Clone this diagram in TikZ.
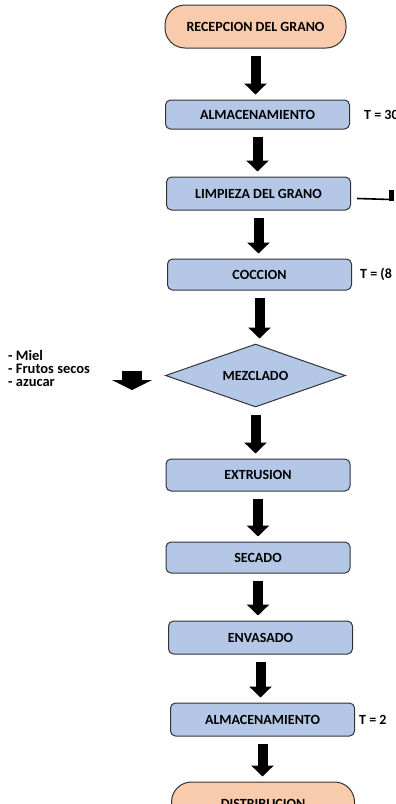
\documentclass[tikz,border=0pt]{standalone}
\usepackage{fontspec}
\setmainfont{Carlito}
\usepackage{xcolor}
\usepackage{tikz}
\usetikzlibrary{shapes.geometric, arrows.meta, positioning}
\definecolor{peach}{HTML}{F8CBAD}
\definecolor{procblue}{HTML}{B4C7E7}
\tikzstyle{blockarrow} = [line width=10pt, -{Triangle[width=22pt,length=11pt]}, shorten <=7pt, shorten >=5pt]
\tikzstyle{terminal} = [rectangle, rounded corners=20pt, minimum width=181pt, minimum height=43pt, draw=black!80, line width=1pt, fill=peach, font=\bfseries\fontsize{14}{14}\selectfont]
\tikzstyle{process} = [rectangle, rounded corners=5pt, minimum width=184pt, minimum height=31pt, draw=black!80, line width=1pt, fill=procblue, font=\bfseries\fontsize{14}{14}\selectfont]
\tikzstyle{decision} = [diamond, aspect=2.86, minimum width=180pt, minimum height=63pt, inner sep=0pt, draw=black!80, line width=1pt, fill=procblue, font=\bfseries\fontsize{14}{14}\selectfont]
\tikzstyle{note} = [font=\bfseries\fontsize{14}{14}\selectfont, inner sep=0pt, anchor=west]

\begin{document}
\begin{tikzpicture}[node distance=50pt]
\useasboundingbox (0pt,0pt) rectangle (396pt,-804pt);

% Main Components
\node (recep) [terminal] at (255.5pt,-26.5pt) {RECEPCION DEL GRANO};
\node (alma1) [process, below=51pt of recep, xshift=2pt, minimum height=29pt] {ALMACENAMIENTO};
\node (limp) [process, below=47pt of alma1, xshift=1pt, minimum height=33pt] {LIMPIEZA DEL GRANO};
\node (cocc) [process, below=48pt of limp, xshift=1pt] {COCCION};
\node (mezc) [decision, below=53pt of cocc, xshift=-4pt] {MEZCLADO};
\node (extr) [process, below=51pt of mezc, xshift=2.5pt, minimum height=32pt] {EXTRUSION};
\node (seca) [process, below=50pt of extr] {SECADO};
\node (envas) [process, below=47pt of seca, xshift=2.5pt, minimum height=33pt] {ENVASADO};
\node (alma2) [process, below=48pt of envas, xshift=2pt, minimum height=33pt] {ALMACENAMIENTO};
\node (distr) [terminal, below=45pt of alma2, xshift=0.5pt, minimum width=183pt] {DISTRIBUCION};

% Side notes
\node (t1) [note, right=14pt of alma1] {T = 30};
\node (t2) [note, right=8pt of cocc] {T = (8};
\node (t3) [note, right=4pt of alma2] {T = 2};
\node (ingr) [note, align=left, font=\bfseries\fontsize{14.5}{13}\selectfont] at (8pt,-368pt) {- Miel\\- Frutos secos\\- azucar};

% Bracket near cleaning
\coordinate (brA) at ([xshift=6pt,yshift=-5pt]limp.east);
\coordinate (brB) at (391pt,-199.5pt);
\coordinate (brC) at (391pt,-190pt);
\draw [line width=1.6pt] (brA) -- (brB);
\draw [line width=5pt] ([yshift=-1pt]brB) -- (brC);

% Ingredient arrow
\coordinate (addA) at (132pt,-371pt);
\coordinate (addB) at (132pt,-390pt);
\draw [line width=20pt, -{Triangle[width=40pt,length=10pt]}] (addA) -- (addB);

% Connections
\draw [blockarrow] (recep.south) -- (recep.south |- alma1.north);
\draw [blockarrow] (alma1.south) -- (alma1.south |- limp.north);
\draw [blockarrow] (limp.south) -- (limp.south |- cocc.north);
\draw [blockarrow] (cocc.south) -- (cocc.south |- mezc.north);
\draw [blockarrow] (mezc.south) -- (mezc.south |- extr.north);
\draw [blockarrow] (extr.south) -- (extr.south |- seca.north);
\draw [blockarrow] (seca.south) -- (seca.south |- envas.north);
\draw [blockarrow] (envas.south) -- (envas.south |- alma2.north);
\draw [blockarrow] (alma2.south) -- (alma2.south |- distr.north);

\end{tikzpicture}
\end{document}
